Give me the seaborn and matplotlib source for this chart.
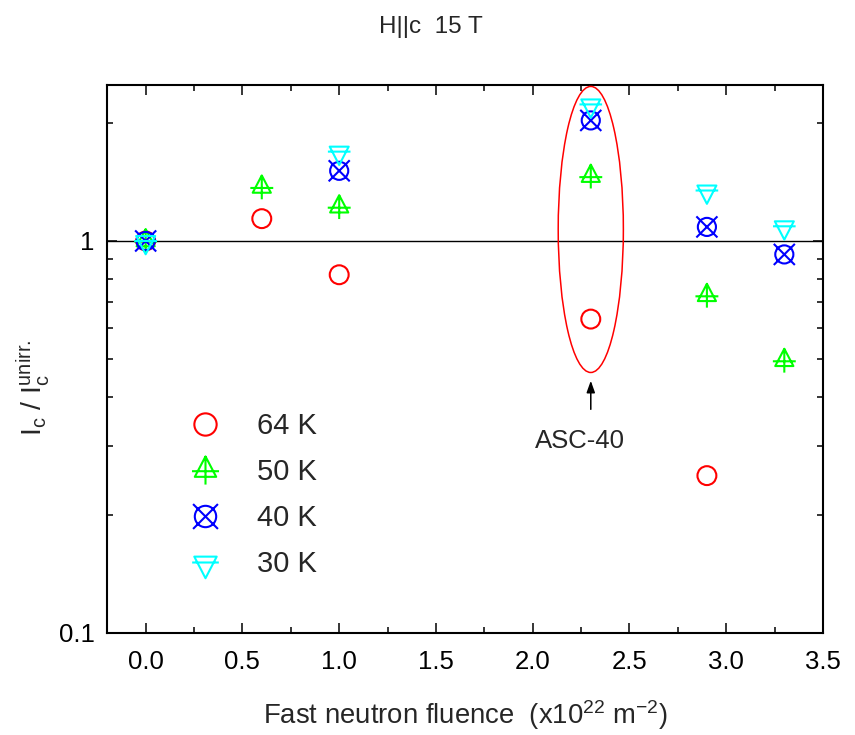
import numpy as np
import pandas as pd
import matplotlib
matplotlib.use("Agg")
import matplotlib.pyplot as plt
from matplotlib.path import Path
from matplotlib.patches import Ellipse
from matplotlib.lines import Line2D
from matplotlib.ticker import MultipleLocator, LogLocator, FuncFormatter, NullFormatter
import seaborn as sns

# Ic / Ic(unirradiated) at 15 T, H || c, versus fast neutron fluence (x10^22 m^-2)
x_64K = [0.0, 0.6, 1.0, 2.3, 2.9]
y_64K = [1.00, 1.14, 0.82, 0.632, 0.252]
x_50K = [0.0, 0.6, 1.0, 2.3, 2.9, 3.3]
y_50K = [1.00, 1.37, 1.22, 1.46, 0.725, 0.495]
x_40K = [0.0, 1.0, 2.3, 2.9, 3.3]
y_40K = [1.00, 1.51, 2.03, 1.086, 0.924]
x_30K = [0.0, 1.0, 2.3, 2.9, 3.3]
y_30K = [1.00, 1.69, 2.23, 1.345, 1.09]
series_labels = ["64 K", "50 K", "40 K", "30 K"]
series_colors = ["#ff0000", "#00ff00", "#0000ff", "#00ffff"]

sns.set_style("ticks")
plt.rcParams["font.family"] = ["Liberation Sans", "DejaVu Sans"]
plt.rcParams["mathtext.default"] = "regular"


def line_art(closed=(), segments=()):
    """Build an open-stroke marker path from polygons and line segments."""
    verts, codes = [], []
    for poly in closed:
        verts += list(poly) + [poly[0]]
        codes += [Path.MOVETO] + [Path.LINETO] * (len(poly) - 1) + [Path.CLOSEPOLY]
    for a, b in segments:
        verts += [a, b]
        codes += [Path.MOVETO, Path.LINETO]
    return Path(verts, codes)


tri_up_plus = line_art(
    closed=[[(0, 1.0), (-0.76, -0.45), (0.76, -0.45)]],
    segments=[((0, 1.0), (0, -1.0)), ((-0.96, -0.05), (0.96, -0.05))],
)
tri_down_bar = line_art(
    closed=[[(-0.84, 0.44), (0.84, 0.44), (0, -1.18)]],
    segments=[((-1.0, 0.0), (1.0, 0.0))],
)
circle_x = Path.make_compound_path(
    Path.circle((0, 0), 0.86),
    line_art(segments=[((-1, -1), (1, 1)), ((-1, 1), (1, -1))]),
)

markers = ["o", tri_up_plus, circle_x, tri_down_bar]
sizes = [185, 295, 230, 369]

df = pd.concat(
    [
        pd.DataFrame({"fluence": xs, "ratio": ys, "T": lab})
        for xs, ys, lab in zip(
            [x_64K, x_50K, x_40K, x_30K], [y_64K, y_50K, y_40K, y_30K], series_labels
        )
    ],
    ignore_index=True,
)

fig = plt.figure(figsize=(8.55, 7.35), dpi=100)
ax = fig.add_axes([0.1251, 0.1388, 0.8375, 0.7456])

ax.set_yscale("log")
ax.set_xlim(-0.2, 3.5)
ax.set_ylim(0.1, 2.5)

ax.axhline(1.0, color="black", lw=1.0, zorder=2)

for lab, col, mk, s in zip(series_labels, series_colors, markers, sizes):
    sub = df[df["T"] == lab]
    sns.scatterplot(
        data=sub, x="fluence", y="ratio", marker=mk, s=s,
        facecolor="none", edgecolor=col, linewidth=1.5,
        ax=ax, legend=False, zorder=3,
    )

# highlight of the ASC-40 sample
cx, cy = ax.transAxes.inverted().transform(ax.transData.transform((2.3, 1.07)))
ax.add_patch(Ellipse((cx, cy), 0.091, 0.522, transform=ax.transAxes,
                     fill=False, ec="red", lw=1.1, zorder=4))
ax.annotate("", xy=(2.3, 0.44), xytext=(2.3, 0.372),
            arrowprops=dict(arrowstyle="-|>,head_length=0.7,head_width=0.25",
                            color="black", lw=1.1, shrinkA=0, shrinkB=0))
ax.text(2.245, 0.332, "ASC-40", ha="center", va="top", fontsize=18.5)

# axes styling
ax.xaxis.set_major_locator(MultipleLocator(0.5))
ax.xaxis.set_minor_locator(MultipleLocator(0.25))
ax.xaxis.set_major_formatter(FuncFormatter(lambda v, _: f"{v:.1f}"))
ax.yaxis.set_major_locator(LogLocator(base=10))
ax.yaxis.set_minor_locator(LogLocator(base=10, subs=np.arange(2, 10)))
ax.yaxis.set_major_formatter(FuncFormatter(lambda v, _: f"{v:g}"))
ax.yaxis.set_minor_formatter(NullFormatter())
ax.tick_params(which="both", direction="in", top=True, right=True,
               width=1.1, colors="black", labelsize=18.5)
ax.tick_params(which="major", length=7.5)
ax.tick_params(which="minor", length=4)
ax.tick_params(axis="x", which="major", pad=12)
ax.tick_params(axis="y", which="major", pad=9)
for sp in ax.spines.values():
    sp.set_linewidth(1.5)
    sp.set_color("black")

ax.set_xlabel(r"Fast neutron fluence  (x10$^{22}$ m$^{-2}$)", fontsize=19.8, labelpad=18)
ax.set_ylabel(r"$I_c$ / $I_c^{unirr.}$", fontsize=20.5)
ax.yaxis.set_label_coords(-0.077, 0.447)
fig.text(0.504, 1 - 27 / 735, "H||c  15 T", ha="center", va="center", fontsize=17.5)

handles = [
    Line2D([], [], ls="none", marker=mk, markersize=np.sqrt(s) * 1.18,
           markerfacecolor="none", markeredgecolor=col, markeredgewidth=1.5)
    for mk, s, col in zip(markers, sizes, series_colors)
]
ax.legend(handles, series_labels, loc="upper left", bbox_to_anchor=(0.1165, 0.403),
          frameon=False, fontsize=21, handlelength=1.0, handletextpad=1.3,
          labelspacing=0.62, borderpad=0, borderaxespad=0)

fig.savefig("out.png", dpi=100)
